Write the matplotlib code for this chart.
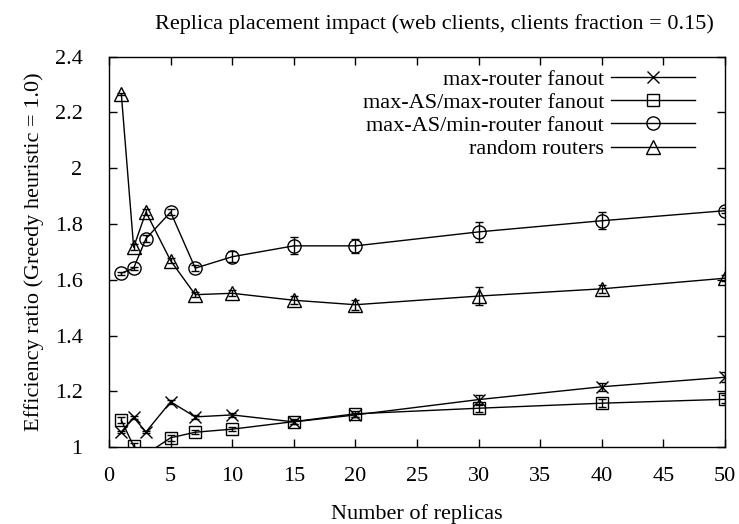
import matplotlib
matplotlib.use("Agg")
import matplotlib.pyplot as plt
from matplotlib.lines import Line2D

plt.rcParams["font.family"] = ["Liberation Serif", "DejaVu Serif"]

replicas = [1, 2, 3, 5, 7, 10, 15, 20, 30, 40, 50]

max_router = [1.055, 1.107, 1.055, 1.163, 1.109, 1.116, 1.091, 1.116, 1.171, 1.217, 1.251]
max_router_err = [0.005, 0.005, 0.005, 0.008, 0.006, 0.006, 0.008, 0.008, 0.018, 0.015, 0.018]

maxas_maxrouter = [1.097, 1.004, 0.975, 1.034, 1.054, 1.065, 1.092, 1.12, 1.14, 1.158, 1.172]
maxas_maxrouter_err = [0.01, 0.01, 0.01, 0.01, 0.008, 0.008, 0.01, 0.01, 0.015, 0.015, 0.015]

maxas_minrouter = [1.624, 1.642, 1.748, 1.843, 1.642, 1.683, 1.722, 1.722, 1.772, 1.812, 1.848]
maxas_minrouter_err = [0.005, 0.005, 0.012, 0.012, 0.01, 0.02, 0.03, 0.025, 0.035, 0.03, 0.01]

random_routers = [2.266, 1.717, 1.843, 1.669, 1.547, 1.552, 1.527, 1.511, 1.542, 1.568, 1.606]
random_routers_err = [0.005, 0.01, 0.01, 0.01, 0.01, 0.01, 0.015, 0.018, 0.033, 0.015, 0.01]

labels = ["max-router fanout", "max-AS/max-router fanout",
          "max-AS/min-router fanout", "random routers"]

FS = 16

fig = plt.figure(figsize=(7.39, 5.24), dpi=100)
ax = fig.add_axes([0.1475, 0.1464, 0.8336, 0.7454])

series = [
    (max_router, max_router_err, "x", 9),
    (maxas_maxrouter, maxas_maxrouter_err, "s", 9),
    (maxas_minrouter, maxas_minrouter_err, "o", 9.5),
    (random_routers, random_routers_err, "^", 9.5),
]

handles = []
for (vals, errs, mk, ms), lab in zip(series, labels):
    ax.errorbar(replicas, vals, yerr=errs, color="black", lw=1.0,
                marker=mk, ms=ms, mfc="none", mec="black", mew=1.0,
                capsize=3, elinewidth=1.0, capthick=1.0)
    handles.append(Line2D([], [], color="black", lw=1.0, marker=mk, ms=ms,
                          mfc="none", mec="black", mew=1.0, label=lab))

ax.set_xlim(0, 50)
ax.set_ylim(1, 2.4)
ax.set_xticks(range(0, 51, 5))
ax.set_yticks([1, 1.2, 1.4, 1.6, 1.8, 2, 2.2, 2.4])
ax.set_yticklabels(["1", "1.2", "1.4", "1.6", "1.8", "2", "2.2", "2.4"])
ax.tick_params(direction="in", top=True, right=True, length=6, width=1,
               labelsize=FS)
ax.tick_params(axis="y", pad=19)
ax.tick_params(axis="x", pad=14)
for s in ax.spines.values():
    s.set_linewidth(1.0)

ax.set_xlabel("Number of replicas", fontsize=FS, labelpad=13)
ax.set_ylabel("Efficiency ratio (Greedy heuristic = 1.0)", fontsize=FS, labelpad=8)
ax.set_title("Replica placement impact (web clients, clients fraction = 0.15)",
             fontsize=FS, pad=20, x=0.528)

leg = ax.legend(handles=handles, loc="upper right", bbox_to_anchor=(0.977, 1.008),
                frameon=False, markerfirst=False, fontsize=FS, handlelength=3.8,
                labelspacing=0.12, handletextpad=0.3, borderpad=0.2)

fig.savefig("out.png", dpi=100)
